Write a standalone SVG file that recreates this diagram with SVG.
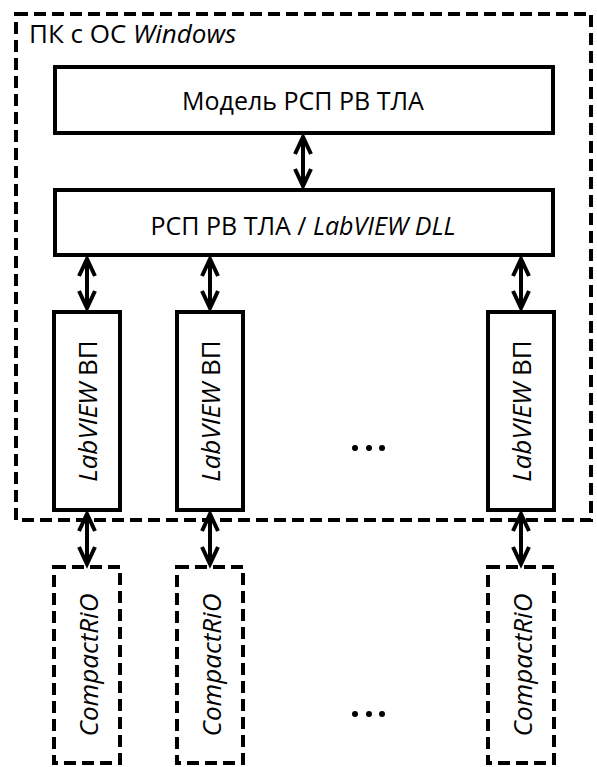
<svg xmlns="http://www.w3.org/2000/svg" width="597" height="767" viewBox="0 0 597 767">
<style>
.solid{fill:#fff;stroke:#000;stroke-width:4}
.dash{fill:none;stroke:#000;stroke-width:4;stroke-dasharray:12 6}
.dashbox{fill:#fff;stroke:#000;stroke-width:4;stroke-dasharray:12 6}
.t{font-family:"Open Sans","Noto Sans",sans-serif;font-size:25px;fill:#000}
.v{font-size:26px}
.i{font-style:italic}
.conn line{stroke:#000;stroke-width:4}
.conn polyline{fill:none;stroke:#000;stroke-width:4;stroke-linejoin:miter}
</style>
<g id="pc">
<rect class="dash" x="16" y="14" width="575" height="506"/>
<text class="t" x="29" y="43" style="font-size:26px">ПК с ОС <tspan class="i">Windows</tspan></text>
</g>
<g id="model">
<rect class="solid" x="55" y="67" width="498" height="66"/>
<text class="t" x="303" y="110" text-anchor="middle">Модель РСП РВ ТЛА</text>
</g>
<g id="dll">
<rect class="solid" x="55" y="190" width="498" height="65"/>
<text class="t" x="303" y="235" text-anchor="middle">РСП РВ ТЛА / <tspan class="i">LabVIEW DLL</tspan></text>
</g>
<g id="vp1">
<rect class="solid" x="54" y="312" width="66" height="198"/>
<text class="t v" transform="translate(97,411) rotate(-90)" text-anchor="middle"><tspan class="i">LabVIEW</tspan> ВП</text>
</g>
<g id="vp2">
<rect class="solid" x="177" y="312" width="66" height="198"/>
<text class="t v" transform="translate(220,411) rotate(-90)" text-anchor="middle"><tspan class="i">LabVIEW</tspan> ВП</text>
</g>
<g id="vp3">
<rect class="solid" x="488" y="312" width="66" height="198"/>
<text class="t v" transform="translate(531,411) rotate(-90)" text-anchor="middle"><tspan class="i">LabVIEW</tspan> ВП</text>
</g>
<g id="crio1">
<rect class="dashbox" x="54" y="567" width="66" height="196"/>
<text class="t v i" transform="translate(98,665) rotate(-90)" text-anchor="middle">CompactRiO</text>
</g>
<g id="crio2">
<rect class="dashbox" x="177" y="567" width="66" height="196"/>
<text class="t v i" transform="translate(221,665) rotate(-90)" text-anchor="middle">CompactRiO</text>
</g>
<g id="crio3">
<rect class="dashbox" x="488" y="567" width="66" height="196"/>
<text class="t v i" transform="translate(532,665) rotate(-90)" text-anchor="middle">CompactRiO</text>
</g>
<g id="dots1" fill="#000">
<circle cx="355" cy="448" r="3"/><circle cx="369" cy="448" r="3"/><circle cx="382" cy="448" r="3"/>
</g>
<g id="dots2" fill="#000">
<circle cx="355" cy="714" r="3"/><circle cx="369" cy="714" r="3"/><circle cx="382" cy="714" r="3"/>
</g>
<g id="connectors" class="conn">
<line x1="303" y1="137" x2="303" y2="186"/>
<polyline points="295,154 303,137 311,154"/><polyline points="295,169 303,186 311,169"/>
<line x1="87" y1="259" x2="87" y2="308"/>
<polyline points="79,276 87,259 95,276"/><polyline points="79,291 87,308 95,291"/>
<line x1="210" y1="259" x2="210" y2="308"/>
<polyline points="202,276 210,259 218,276"/><polyline points="202,291 210,308 218,291"/>
<line x1="521" y1="259" x2="521" y2="308"/>
<polyline points="513,276 521,259 529,276"/><polyline points="513,291 521,308 529,291"/>
<line x1="87" y1="514" x2="87" y2="564"/>
<polyline points="79,531 87,514 95,531"/><polyline points="79,547 87,564 95,547"/>
<line x1="210" y1="514" x2="210" y2="564"/>
<polyline points="202,531 210,514 218,531"/><polyline points="202,547 210,564 218,547"/>
<line x1="521" y1="514" x2="521" y2="564"/>
<polyline points="513,531 521,514 529,531"/><polyline points="513,547 521,564 529,547"/>
</g>
</svg>
